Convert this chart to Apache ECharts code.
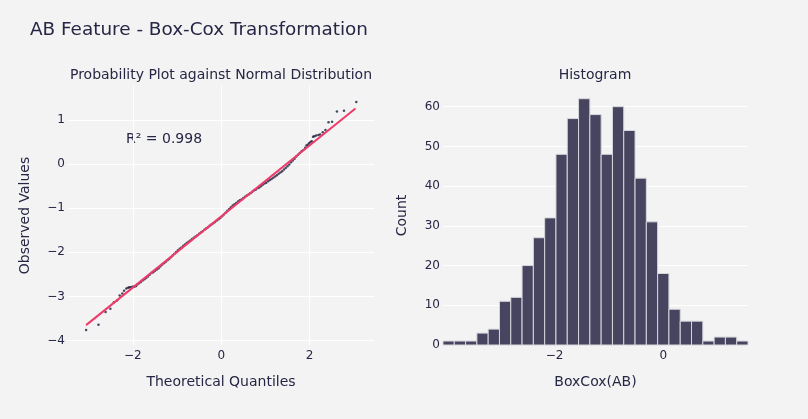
<!DOCTYPE html>
<html>
<head>
    <meta charset="utf-8">
    <title>AB Feature - Box-Cox Transformation</title>
    <script src="https://cdn.jsdelivr.net/npm/echarts@6/dist/echarts.min.js"></script>
    <style>
        html, body { margin: 0; padding: 0; background: #f3f3f3; }
        #chart1 { width: 808px; height: 419px; }
    </style>
</head>
<body>
<div id="chart1"></div>
<script>
    // probability plot: theoretical quantiles vs observed
    var qqX = [-3.06, -2.78, -2.62, -2.51, -2.43, -2.36, -2.30, -2.24, -2.20, -2.15, -2.11, -2.08, -2.05, -2.01, -1.98, -1.95, -1.93, -1.90,
        -1.86, -1.82, -1.78, -1.74, -1.70, -1.66, -1.62, -1.58, -1.54, -1.50, -1.46, -1.42, -1.38, -1.34, -1.30, -1.26, -1.22, -1.18,
        -1.14, -1.10, -1.06, -1.02, -0.98, -0.94, -0.90, -0.86, -0.82, -0.78, -0.74, -0.70, -0.66, -0.62, -0.58, -0.54, -0.50, -0.46,
        -0.42, -0.38, -0.34, -0.30, -0.26, -0.22, -0.18, -0.14, -0.10, -0.06, -0.02, 0.02, 0.06, 0.10, 0.14, 0.18, 0.22, 0.26, 0.30,
        0.34, 0.38, 0.42, 0.46, 0.50, 0.54, 0.58, 0.62, 0.66, 0.70, 0.74, 0.78, 0.82, 0.86, 0.90, 0.94, 0.98, 1.02, 1.06, 1.10, 1.14,
        1.18, 1.22, 1.26, 1.30, 1.34, 1.38, 1.42, 1.46, 1.50, 1.54, 1.58, 1.62, 1.66, 1.70, 1.74, 1.78, 1.82, 1.86, 1.90, 1.93, 1.96,
        1.99, 2.02, 2.05, 2.08, 2.11, 2.15, 2.20, 2.24, 2.30, 2.36, 2.43, 2.51, 2.62, 2.78, 3.06];
    var qqY = [-3.76, -3.64, -3.35, -3.28, -3.13, -3.09, -2.98, -2.93, -2.87, -2.82, -2.80, -2.79, -2.79, -2.78, -2.78, -2.77, -2.76, -2.73,
        -2.70, -2.67, -2.64, -2.61, -2.58, -2.55, -2.51, -2.47, -2.45, -2.42, -2.39, -2.36, -2.32, -2.28, -2.25, -2.22, -2.18, -2.15,
        -2.11, -2.07, -2.03, -1.99, -1.95, -1.92, -1.89, -1.85, -1.82, -1.79, -1.76, -1.73, -1.70, -1.67, -1.64, -1.61, -1.58, -1.55,
        -1.52, -1.49, -1.46, -1.43, -1.40, -1.37, -1.34, -1.31, -1.28, -1.25, -1.22, -1.18, -1.14, -1.10, -1.06, -1.02, -0.98, -0.94, -0.91,
        -0.88, -0.85, -0.82, -0.80, -0.77, -0.74, -0.71, -0.69, -0.66, -0.63, -0.60, -0.58, -0.55, -0.53, -0.50, -0.47, -0.44, -0.42, -0.39, -0.36, -0.34,
        -0.31, -0.28, -0.25, -0.22, -0.19, -0.16, -0.12, -0.09, -0.05, -0.01, 0.04, 0.08, 0.12, 0.17, 0.21, 0.25, 0.29, 0.32, 0.37, 0.42, 0.44,
        0.47, 0.50, 0.52, 0.62, 0.63, 0.65, 0.66, 0.67, 0.72, 0.77, 0.95, 0.96, 1.19, 1.21, 1.41];

    // fitted line end points
    var fitX = [-3.06, 3.04];
    var fitY = [-3.65, 1.26];
    var rSquared = '0.998';

    // histogram of BoxCox(AB)
    var binStart = -4.05;
    var binWidth = 0.2077;
    var counts = [1, 1, 1, 3, 4, 11, 12, 20, 27, 32, 48, 57, 62, 58, 48, 60, 54, 42, 31, 18, 9, 6, 6, 1, 2, 2, 1];

    var fontName = 'DejaVu Sans';
    var textColor = '#262645';

    function minusLabel(v) {
        return v < 0 ? '\u2212' + Math.abs(v) : String(v);
    }

    var qqData = qqX.map(function (x, i) { return [x, qqY[i]]; });
    var fitData = fitX.map(function (x, i) { return [x, fitY[i]]; });
    var histData = counts.map(function (c, i) {
        return [binStart + i * binWidth, binStart + (i + 1) * binWidth, c];
    });

    var myChart = echarts.init(document.getElementById('chart1'));

    var axisCommon = {
        axisLine: { show: false },
        axisTick: { show: false },
        axisLabel: { color: textColor, fontFamily: fontName, fontSize: 12, showMinLabel: false, showMaxLabel: false },
        splitLine: { show: true, showMinLine: false, showMaxLine: false, lineStyle: { color: '#ffffff', width: 1 } },
        nameLocation: 'middle',
        nameTextStyle: { color: textColor, fontFamily: fontName, fontSize: 14 }
    };

    var option = {
        backgroundColor: '#f3f3f3',
        animation: false,
        title: [{
            text: 'AB Feature - Box-Cox Transformation',
            left: 30, top: 21, padding: 0,
            textStyle: { color: textColor, fontFamily: fontName, fontSize: 18.4, fontWeight: 'normal' }
        }, {
            text: 'Probability Plot against Normal Distribution',
            left: 221, top: 68, padding: 0, textAlign: 'center',
            textStyle: { color: textColor, fontFamily: fontName, fontSize: 14, fontWeight: 'normal' }
        }, {
            text: 'Histogram',
            left: 595, top: 68, padding: 0, textAlign: 'center',
            textStyle: { color: textColor, fontFamily: fontName, fontSize: 14, fontWeight: 'normal' }
        }],
        grid: [
            { left: 68, right: 434, top: 86, bottom: 74 },
            { left: 443, right: 60, top: 86, bottom: 74 }
        ],
        xAxis: [
            Object.assign({}, axisCommon, {
                type: 'value', gridIndex: 0, min: -3.47, max: 3.46, splitNumber: 3,
                name: 'Theoretical Quantiles', nameGap: 30,
                axisLabel: Object.assign({}, axisCommon.axisLabel, { margin: 5, formatter: minusLabel })
            }),
            Object.assign({}, axisCommon, {
                type: 'value', gridIndex: 1, min: binStart, max: binStart + counts.length * binWidth, splitNumber: 3,
                name: 'BoxCox(AB)', nameGap: 30,
                splitLine: { show: false },
                axisLabel: Object.assign({}, axisCommon.axisLabel, {
                    margin: 5,
                    formatter: function (v) { return (v === -2 || v === 0) ? minusLabel(v) : ''; }
                })
            })
        ],
        yAxis: [
            Object.assign({}, axisCommon, {
                type: 'value', gridIndex: 0, min: -4.1, max: 1.77, splitNumber: 6,
                name: 'Observed Values', nameGap: 36,
                axisLabel: Object.assign({}, axisCommon.axisLabel, { margin: 3, formatter: minusLabel })
            }),
            Object.assign({}, axisCommon, {
                type: 'value', gridIndex: 1, min: 0, max: 65.2, interval: 10,
                name: 'Count', nameGap: 34,
                axisLabel: Object.assign({}, axisCommon.axisLabel, { margin: 3, showMinLabel: true })
            })
        ],
        graphic: [{
            type: 'text',
            left: 126, top: 132,
            style: { text: 'R\u00b2 = ' + rSquared, fill: textColor, fontFamily: fontName, fontSize: 14 }
        }],
        series: [{
            type: 'scatter',
            xAxisIndex: 0, yAxisIndex: 0,
            data: qqData,
            symbolSize: 2.5,
            itemStyle: { color: '#1c1c3a' },
            z: 2
        }, {
            type: 'line',
            xAxisIndex: 0, yAxisIndex: 0,
            data: fitData,
            showSymbol: false,
            lineStyle: { color: '#ef3b6a', width: 2 },
            z: 3
        }, {
            type: 'custom',
            xAxisIndex: 1, yAxisIndex: 1,
            data: histData,
            renderItem: function (params, api) {
                var p0 = api.coord([api.value(0), 0]);
                var p1 = api.coord([api.value(1), api.value(2)]);
                return {
                    type: 'rect',
                    shape: { x: p0[0], y: p1[1], width: p1[0] - p0[0], height: p0[1] - p1[1] },
                    style: { fill: '#47445f', stroke: '#d6d6dc', lineWidth: 1 }
                };
            }
        }]
    };

    myChart.setOption(option);
</script>
</body>
</html>
